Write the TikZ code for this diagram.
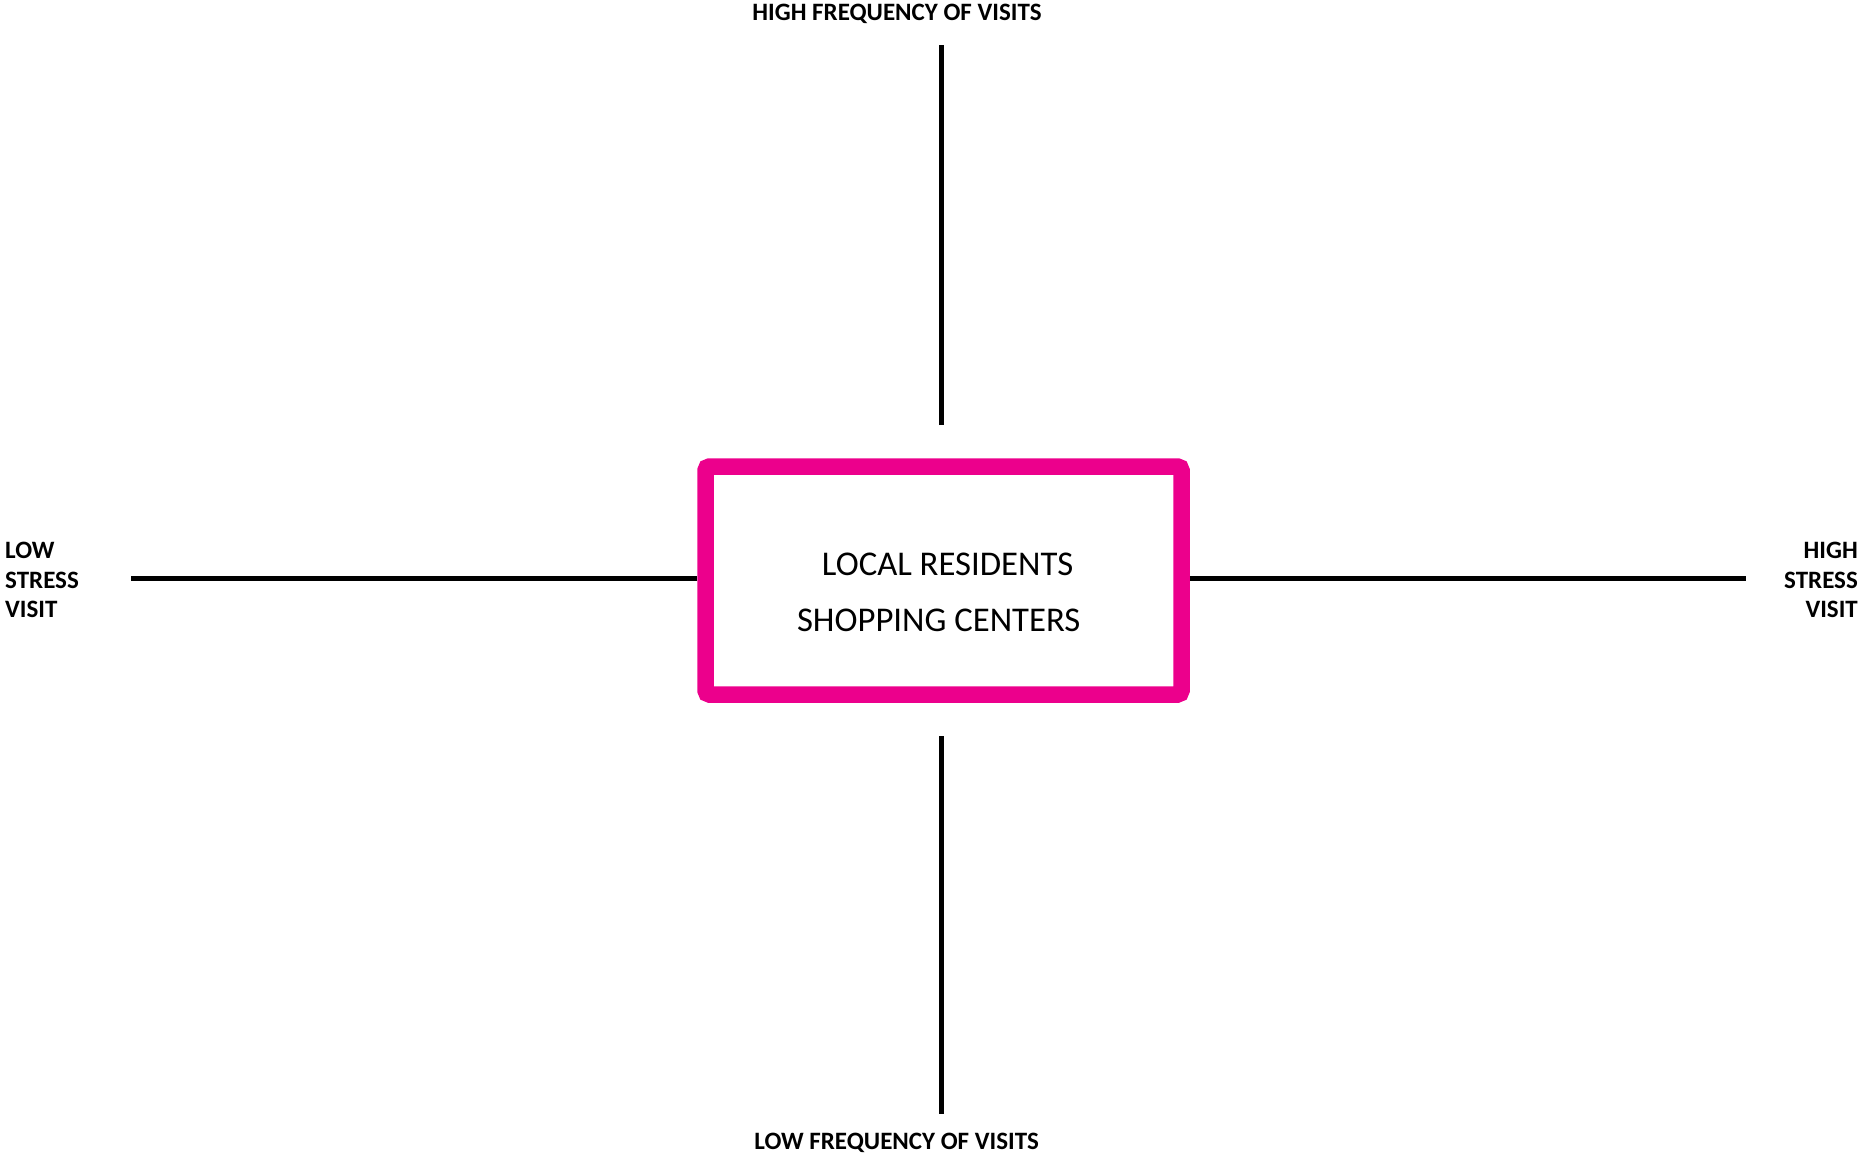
\documentclass[tikz,border=0pt]{standalone}
\usepackage{fontspec}
\setmainfont{Carlito}
\definecolor{boxpink}{HTML}{EC008C}
\begin{document}
\begin{tikzpicture}[x=1pt,y=-1pt,
  axis/.style={line width=5pt, black},
  axislabel/.style={font=\fontsize{25}{29.7}\selectfont\bfseries, inner sep=0pt},
  boxtext/.style={font=\fontsize{34.7}{40}\selectfont, inner sep=0pt, anchor=center},
  centerbox/.style={draw=boxpink, line width=16.5pt, rounded corners=4pt, minimum width=476pt, minimum height=228pt, inner sep=0pt},
]
\useasboundingbox (0,0) rectangle (1862,1154);
% central box with its two lines of text
\node[centerbox] (box) at (943.5,580.5) {};
\node[boxtext] (line1) at (947.6,564) {LOCAL RESIDENTS};
\node[boxtext] (line2) at (938.7,620) {SHOPPING CENTERS};
% axis end points
\coordinate (topend) at (941.7,45);
\coordinate (topstart) at (941.7,425);
\coordinate (botstart) at (941.7,736);
\coordinate (botend) at (941.7,1114);
\coordinate (leftend) at (131,578);
\coordinate (rightend) at (1746,578);
\draw[axis] (topstart) -- (topend);
\draw[axis] (botstart) -- (botend);
\draw[axis] (box.west |- leftend) -- (leftend);
\draw[axis] (box.east |- rightend) -- (rightend);
% axis labels
\node[axislabel, anchor=center] (toplabel) at (897,14) {HIGH FREQUENCY OF VISITS};
\node[axislabel, anchor=center] (botlabel) at (896.6,1143) {LOW FREQUENCY OF VISITS};
\node[axislabel, anchor=west, align=left] (leftlabel) at (5,580) {LOW\\STRESS\\VISIT};
\node[axislabel, anchor=east, align=right] (rightlabel) at (1858,580) {HIGH\\STRESS\\VISIT};
\end{tikzpicture}
\end{document}
